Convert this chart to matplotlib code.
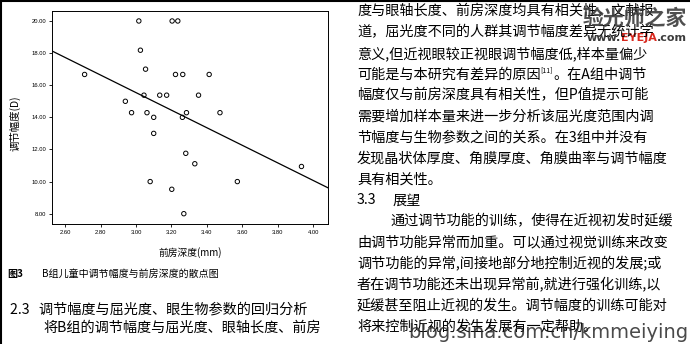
import matplotlib
matplotlib.use("Agg")
import matplotlib.pyplot as plt
from matplotlib.lines import Line2D

# ---------------- data ----------------
ac_depth = [2.71, 2.94, 2.975, 3.016, 3.025, 3.054, 3.045, 3.062, 3.10, 3.10,
            3.08, 3.134, 3.173, 3.204, 3.236, 3.223, 3.264, 3.262, 3.285, 3.281,
            3.202, 3.27, 3.332, 3.353, 3.413, 3.474, 3.572, 3.934]
amplitude = [16.67, 15.0, 14.29, 20.0, 18.18, 17.0, 15.38, 14.29, 14.0, 13.0,
             10.0, 15.38, 15.38, 20.0, 20.0, 16.67, 16.67, 14.0, 14.29, 11.76,
             9.52, 8.0, 11.11, 15.38, 16.67, 14.29, 10.0, 10.94]
fit_slope = -5.47
fit_intercept = 31.95
x_ticks = [2.6, 2.8, 3.0, 3.2, 3.4, 3.6, 3.8, 4.0]
y_ticks = [8, 10, 12, 14, 16, 18, 20]
x_label = "前房深度(mm)"
y_label = "调节幅度(D)"
caption_num = "图3"
caption = "B组儿童中调节幅度与前房深度的散点图"
left_lines = ["2.3   调节幅度与屈光度、眼生物参数的回归分析",
              "将B组的调节幅度与屈光度、眼轴长度、前房"]
right_lines = [
    "度与眼轴长度、前房深度均具有相关性，文献报",
    "道，屈光度不同的人群其调节幅度差异无统计学",
    "意义,但近视眼较正视眼调节幅度低,样本量偏少",
    None,
    "幅度仅与前房深度具有相关性，但P值提示可能",
    "需要增加样本量来进一步分析该屈光度范围内调",
    "节幅度与生物参数之间的关系。在3组中并没有",
    "发现晶状体厚度、角膜厚度、角膜曲率与调节幅度",
    "具有相关性。",
    None,
    "通过调节功能的训练，使得在近视初发时延缓",
    "由调节功能异常而加重。可以通过视觉训练来改变",
    "调节功能的异常,间接地部分地控制近视的发展;或",
    "者在调节功能还未出现异常前,就进行强化训练,以",
    "延缓甚至阻止近视的发生。调节幅度的训练可能对",
    "将来控制近视的发生发展有一定帮助。",
]
line4_parts = ["可能是与本研究有差异的原因", "[11]", "。在A组中调节"]
heading33 = ["3.3", "展望"]
wm_cn = "验光师之家"
wm_url = ["www.", "EYEJA", ".com"]
wm_blog = "blog.sina.com.cn/kmmeiying"

# ---------------- figure ----------------
W, H = 690, 344
fig = plt.figure(figsize=(W / 100, H / 100), dpi=100)
fig.patch.set_facecolor("white")
CJK = ["Noto Sans CJK SC", "DejaVu Sans"]
FS = 10.2


def px(x, y):
    return x / W, 1 - y / H


ax = fig.add_axes([52 / W, 1 - 224.3 / H, 275.7 / W, 213.6 / H])
ax.scatter(ac_depth, amplitude, s=10, facecolors="none", edgecolors="black",
           linewidths=0.7, zorder=3)
ax.axline((0, fit_intercept), slope=fit_slope, color="black", lw=0.9)
ax.set_xlim(2.526, 4.082)
ax.set_ylim(7.34, 20.64)
ax.set_xticks(x_ticks)
ax.set_xticklabels([f"{v:.2f}" for v in x_ticks])
ax.set_yticks(y_ticks)
ax.set_yticklabels([f"{v:.2f}" for v in y_ticks])
ax.tick_params(direction="out", length=2.5, width=0.6, labelsize=4.2, pad=1.5,
               colors="black")
for lab in ax.get_xticklabels() + ax.get_yticklabels():
    lab.set_family("Liberation Sans")
for sp in ax.spines.values():
    sp.set_linewidth(0.7)
    sp.set_color("black")

fig.text(*px(15, 123), y_label, rotation=90, ha="center", va="center",
         fontsize=7.5, family=CJK)
fig.text(*px(190, 253), x_label, ha="center", va="center", fontsize=7,
         family=CJK)

# caption
fig.text(*px(7, 274), caption_num, ha="left", va="center", fontsize=7.2,
         family=CJK, weight="bold")
fig.text(*px(42, 274), caption, ha="left", va="center", fontsize=7.2,
         family=CJK)

# left body
fig.text(*px(10, 310), left_lines[0], ha="left", va="center", fontsize=FS,
         family=CJK)
fig.text(*px(43, 328), left_lines[1], ha="left", va="center", fontsize=FS,
         family=CJK)

# right column
x0 = 357
y0 = 11.5
dy = 21.0
for i, line in enumerate(right_lines):
    y = y0 + i * dy
    if i == 3:
        a = fig.text(*px(x0, y), line4_parts[0], ha="left", va="center",
                     fontsize=FS, family=CJK)
        b = plt.annotate(line4_parts[1], xy=(1, 0.78), xycoords=a,
                         ha="left", va="center", fontsize=5.0,
                         family=CJK, annotation_clip=False)
        plt.annotate(line4_parts[2], xy=(1, 0.5), xycoords=(b, a),
                     ha="left", va="center", fontsize=FS, family=CJK,
                     annotation_clip=False)
        continue
    if i == 9:
        fig.text(*px(x0, y), heading33[0], ha="left", va="center",
                 fontsize=FS, family=CJK)
        fig.text(*px(393, y), heading33[1], ha="left", va="center",
                 fontsize=FS, family=CJK)
        continue
    xs = 390 if i == 10 else x0
    fig.text(*px(xs, y), line, ha="left", va="center", fontsize=FS,
             family=CJK)

# watermarks
fig.text(*px(635, 18), wm_cn, ha="center", va="center", fontsize=15,
         family=CJK, weight="bold", color="#3c3c3c", alpha=0.9)
u1 = fig.text(*px(587, 38), wm_url[0], ha="left", va="center", fontsize=8,
              family="DejaVu Sans", weight="bold", color="#3c3c3c")
u2 = plt.annotate(wm_url[1], xy=(1, 0.5), xycoords=u1, ha="left", va="center",
                  fontsize=8, family="DejaVu Sans", weight="bold",
                  color="#d8281e", annotation_clip=False)
plt.annotate(wm_url[2], xy=(1, 0.5), xycoords=u2, ha="left", va="center",
             fontsize=8, family="DejaVu Sans", weight="bold",
             color="#3c3c3c", annotation_clip=False)
fig.text(*px(408, 332), wm_blog, ha="left", va="center", fontsize=14,
         family="DejaVu Sans", color="#2a2a2a", alpha=0.85)

# scan borders
fig.add_artist(Line2D([0, 1], [1 - 0.8 / H, 1 - 0.8 / H], color="black",
                      lw=1.5, transform=fig.transFigure))
fig.add_artist(Line2D([1.2 / W, 1.2 / W], [0, 1], color="black",
                      lw=1.5, transform=fig.transFigure))

fig.savefig("out.png", dpi=100)
